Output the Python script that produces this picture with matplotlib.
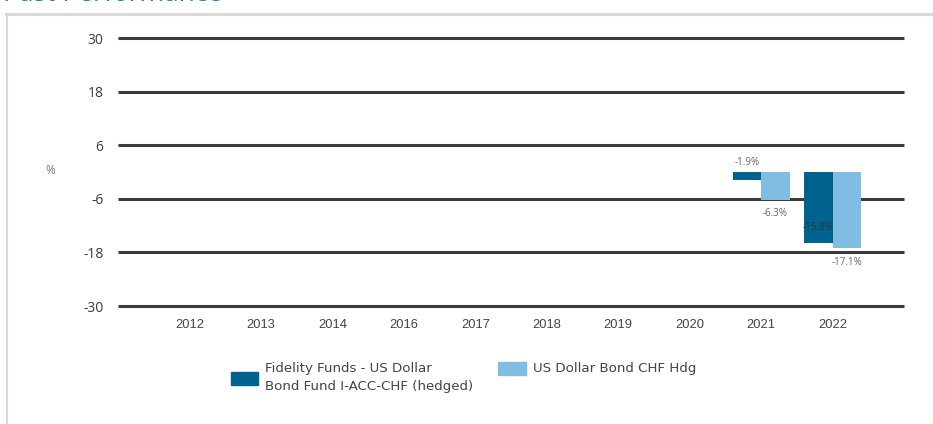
import matplotlib
matplotlib.use("Agg")
import matplotlib.pyplot as plt
from matplotlib.patches import Rectangle
from matplotlib.lines import Line2D
import numpy as np

plt.rcParams["axes.unicode_minus"] = False

years = ["2012", "2013", "2014", "2016", "2017", "2018", "2019", "2020", "2021", "2022"]
fund_values = [None, None, None, None, None, None, None, None, -1.9, -15.8]
index_values = [None, None, None, None, None, None, None, None, -6.3, -17.1]
fund_name = "Fidelity Funds - US Dollar\nBond Fund I-ACC-CHF (hedged)"
index_name = "US Dollar Bond CHF Hdg"
y_ticks = [30, 18, 6, -6, -18, -30]

dark = "#00628f"
light = "#7fbde3"
grid_c = "#3b3b3b"
txt_c = "#3c3c3c"

W, H = 933, 424
fig = plt.figure(figsize=(W / 100, H / 100), dpi=100)

def fx(px):
    return px / W

def fy(py):
    return 1 - py / H

ax = fig.add_axes([fx(118), fy(306), fx(904) - fx(118), fy(38) - fy(306)])
x = np.arange(len(years))
bw = 0.4

fv = np.array([np.nan if v is None else v for v in fund_values], dtype=float)
iv = np.array([np.nan if v is None else v for v in index_values], dtype=float)
ax.bar(x - bw / 2, fv, width=bw, color=dark, zorder=3)
ax.bar(x + bw / 2, iv, width=bw, color=light, zorder=3)

ax.set_xlim(-1, len(years))
ax.set_ylim(-30, 30)
ax.set_yticks(y_ticks)
ax.set_xticks(x)
ax.set_xticklabels(years)
for t in y_ticks:
    ax.axhline(t, color=grid_c, lw=2.2, zorder=1, clip_on=False, solid_capstyle="butt")
for s in ax.spines.values():
    s.set_visible(False)
ax.tick_params(axis="both", length=0, colors=txt_c)
ax.tick_params(axis="y", pad=10.5, labelsize=10)
ax.tick_params(axis="x", pad=9, labelsize=9.3, labelcolor="#444444")
for lab in ax.get_yticklabels():
    lab.set_fontfamily("Open Sans")
for lab in ax.get_xticklabels():
    lab.set_fontfamily("Liberation Sans")

# value labels
lab_kw = dict(textcoords="offset points", ha="center", va="center",
              fontsize=7, family="Open Sans", zorder=5)
i21, i22 = years.index("2021"), years.index("2022")
ax.annotate(f"{fv[i21]:.1f}%", xy=(i21 - bw / 2, 0), xytext=(0, 7), color="#666666", **lab_kw)
ax.annotate(f"{iv[i21]:.1f}%", xy=(i21 + bw / 2, iv[i21]), xytext=(0, -9.5), color="#666666", **lab_kw)
ax.annotate(f"{fv[i22]:.1f}%", xy=(i22 - bw / 2, fv[i22]), xytext=(0, 10.5), color="#333333", **lab_kw)
ax.annotate(f"{iv[i22]:.1f}%", xy=(i22 + bw / 2, iv[i22]), xytext=(0, -10), color="#666666", **lab_kw)

# % label
fig.text(fx(50), fy(171), "%", fontsize=8.5, color="#777777", ha="center", va="center",
         family="Open Sans")

# frame lines
fig.add_artist(Line2D([fx(6), 1], [fy(13.5), fy(13.5)], color="#d9d9d9", lw=2.2))
fig.add_artist(Line2D([fx(7), fx(7)], [fy(13.5), 0], color="#d9d9d9", lw=1.5))

# cut title
fig.text(fx(3), fy(0.8), "Past Performance", fontsize=19, color="#1b7fc0",
         ha="left", va="baseline", family="Open Sans")

# legend
fig.add_artist(Rectangle((fx(231), fy(385)), fx(27), 13 / H, color=dark))
fig.text(fx(265), fy(377.5), fund_name, fontsize=9.6, color="#444444", ha="left",
         va="center", family="DejaVu Sans", linespacing=1.45)
fig.add_artist(Rectangle((fx(498), fy(375)), fx(28), 13 / H, color=light))
fig.text(fx(533), fy(368.5), index_name, fontsize=9.6, color="#444444", ha="left",
         va="center", family="DejaVu Sans")

fig.savefig("out.png", dpi=100)
